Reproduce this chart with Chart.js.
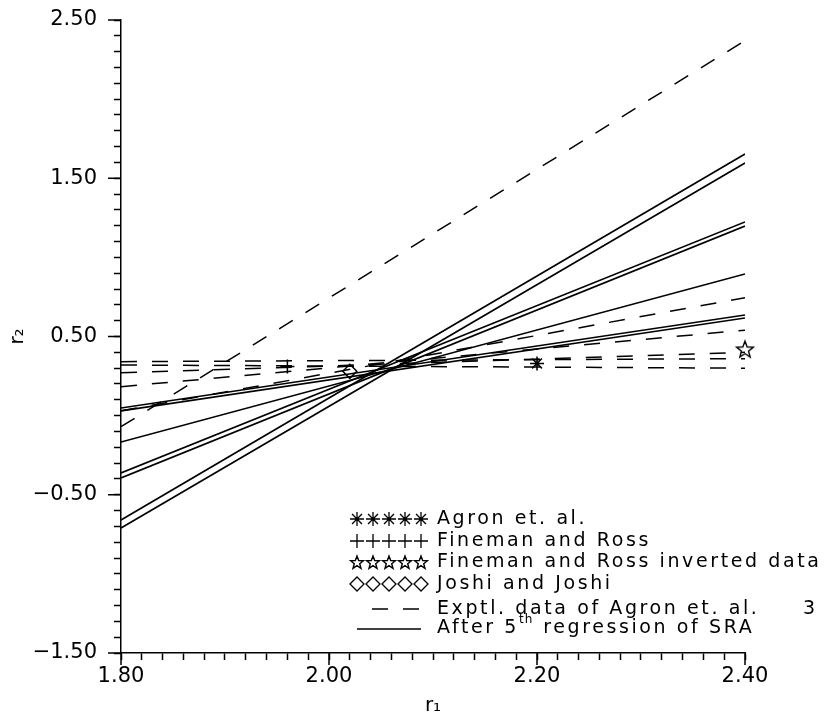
<!DOCTYPE html>
<html>
<head>
<meta charset="utf-8">
<script src="https://cdn.jsdelivr.net/npm/chart.js@4.4.1/dist/chart.umd.min.js"></script>
<style>
html, body { margin: 0; padding: 0; background: #fff; }
</style>
</head>
<body>
<canvas id="grafico" width="839" height="718"></canvas>
<script>
// r1 range covered by every fitted / experimental line
var r1Ends = [1.80, 2.40];

// solid lines: after 5th regression of SRA (r2 at r1 = 1.80 and 2.40)
var sraStart = [0.048, 0.030, -0.167, -0.362, -0.394, -0.660, -0.710];
var sraEnd   = [0.636, 0.617, 0.895, 1.224, 1.198, 1.653, 1.596];

// dashed lines: experimental data of Agron et. al.
var exptStart = [-0.07, 0.03, 0.183, 0.271, 0.320, 0.341];
var exptEnd   = [2.37, 0.745, 0.540, 0.400, 0.300, 0.360];

// single points of the literature methods
var agronR1 = [2.20],    agronR2 = [0.33];
var finemanR1 = [1.96],  finemanR2 = [0.31];
var invertR1 = [2.40],   invertR2 = [0.42];
var joshiR1 = [2.02],    joshiR2 = [0.28];

var xTickLabels = [1.80, 2.00, 2.20, 2.40];
var yTickLabels = [-1.50, -0.50, 0.50, 1.50, 2.50];

var legendLabels = ["Agron et. al.", "Fineman and Ross", "Fineman and Ross inverted data", "Joshi and Joshi"];

var fonte = '"DejaVu Sans", sans-serif';

function estrela(size) {
    var c = document.createElement('canvas');
    c.width = size; c.height = size;
    var g = c.getContext('2d');
    var cx = size / 2, cy = size / 2 + 0.8, R = size / 2 - 1.2, r = R * 0.42;
    g.beginPath();
    for (var i = 0; i < 10; i++) {
        var a = -Math.PI / 2 + i * Math.PI / 5;
        var rr = (i % 2) ? r : R;
        g.lineTo(cx + rr * Math.cos(a), cy + rr * Math.sin(a));
    }
    g.closePath();
    g.fillStyle = '#fff'; g.fill();
    g.lineWidth = 1.4; g.strokeStyle = '#000'; g.stroke();
    return c;
}
var starBig = estrela(20), starSmall = estrela(16);

function pts(xs, ys) {
    return xs.map(function (v, i) { return {x: v, y: ys[i]}; });
}

var datasets = [];
sraStart.forEach(function (v, i) {
    datasets.push({
        data: pts(r1Ends, [v, sraEnd[i]]),
        showLine: true, borderColor: '#000', borderWidth: 1.7, pointRadius: 0
    });
});
exptStart.forEach(function (v, i) {
    datasets.push({
        data: pts(r1Ends, [v, exptEnd[i]]),
        showLine: true, borderColor: '#000', borderWidth: 1.5, borderDash: [16, 15], pointRadius: 0
    });
});
datasets.push({data: pts(agronR1, agronR2), pointStyle: 'star', pointRadius: 7, borderColor: '#000', borderWidth: 1.5, clip: false});
datasets.push({data: pts(finemanR1, finemanR2), pointStyle: 'cross', pointRadius: 7, borderColor: '#000', borderWidth: 1.5, clip: false});
datasets.push({data: pts(invertR1, invertR2), pointStyle: starBig, clip: false});
datasets.push({data: pts(joshiR1, joshiR2), pointStyle: 'rectRot', pointRadius: 7, borderColor: '#000', backgroundColor: '#fff', borderWidth: 1.5, clip: false});

function isMajor(v, list) {
    return list.some(function (t) { return Math.abs(t - v) < 1e-6; });
}
function fmt(v) {
    var s = Math.abs(v).toFixed(2);
    return v < -1e-9 ? '\u2212' + s : s;
}

// longer ticks at the labelled values
var ticksLongos = {
    id: 'ticksLongos',
    afterDraw: function (chart) {
        var ctx = chart.ctx, x = chart.scales.x, y = chart.scales.y;
        ctx.save();
        ctx.strokeStyle = '#000';
        ctx.lineWidth = 1.5;
        ctx.beginPath();
        xTickLabels.forEach(function (v) {
            var px = x.getPixelForValue(v);
            ctx.moveTo(px, x.top); ctx.lineTo(px, x.top + 12);
        });
        yTickLabels.forEach(function (v) {
            var py = y.getPixelForValue(v);
            ctx.moveTo(y.right, py); ctx.lineTo(y.right - 13, py);
        });
        ctx.stroke();
        ctx.restore();
    }
};

var legenda = {
    id: 'legenda',
    afterDatasetsDraw: function (chart) {
        var ctx = chart.ctx, h = Chart.helpers;
        var estilos = ['star', 'cross', starSmall, 'rectRot'];
        var linhas = [519, 541, 562, 584];
        ctx.save();
        ctx.strokeStyle = '#000';
        ctx.textBaseline = 'middle';
        ctx.font = '19px ' + fonte;
        ctx.letterSpacing = '2.6px';
        estilos.forEach(function (st, i) {
            for (var k = 0; k < 5; k++) {
                ctx.lineWidth = 1.3;
                ctx.fillStyle = '#fff';
                h.drawPoint(ctx, {pointStyle: st, radius: 7, borderWidth: 1.3, rotation: 0}, 357 + k * 16, linhas[i]);
            }
            ctx.fillStyle = '#000';
            ctx.fillText(legendLabels[i], 437, linhas[i]);
        });
        // line samples
        ctx.lineWidth = 1.5;
        ctx.beginPath();
        ctx.setLineDash([16, 15]);
        ctx.moveTo(372, 609); ctx.lineTo(420, 609);
        ctx.stroke();
        ctx.setLineDash([]);
        ctx.beginPath();
        ctx.moveTo(357, 629); ctx.lineTo(421, 629);
        ctx.stroke();
        ctx.fillStyle = '#000';
        ctx.fillText('Exptl. data of Agron et. al.', 437, 609);
        ctx.fillText('3', 803, 609);
        var x0 = 437;
        ctx.fillText('After 5', x0, 628);
        x0 += ctx.measureText('After 5').width;
        ctx.font = '12px ' + fonte;
        ctx.letterSpacing = '1px';
        ctx.fillText('th', x0, 620);
        x0 += ctx.measureText('th').width + 4;
        ctx.font = '19px ' + fonte;
        ctx.letterSpacing = '2.6px';
        ctx.fillText('regression of SRA', x0 + 6, 628);
        ctx.restore();
    }
};

var ctx = document.getElementById('grafico').getContext('2d');
var chart = new Chart(ctx, {
    type: 'scatter',
    data: { datasets: datasets },
    options: {
        responsive: false,
        animation: false,
        devicePixelRatio: 1,
        layout: { padding: { top: 20, right: 94, left: 0, bottom: 0 } },
        plugins: { legend: { display: false }, tooltip: { enabled: false } },
        scales: {
            x: {
                type: 'linear', position: 'bottom', min: 1.80, max: 2.40,
                afterFit: function (s) { s.height = 65; s.paddingLeft = 0; s.paddingRight = 0; },
                ticks: {
                    stepSize: 0.02, autoSkip: false, maxRotation: 0, minRotation: 0, padding: 4,
                    color: '#000', font: { family: fonte, size: 21 },
                    callback: function (v) { return isMajor(v, xTickLabels) ? fmt(v) : ''; }
                },
                grid: { drawOnChartArea: false, tickLength: 7, tickColor: '#000', tickWidth: 1.5 },
                border: { color: '#000', width: 1.5 },
                title: { display: true, text: 'r\u2081', color: '#000', font: { family: fonte, size: 20 }, padding: 0 }
            },
            y: {
                type: 'linear', min: -1.50, max: 2.50,
                afterFit: function (s) { s.width = 121; s.paddingTop = 0; s.paddingBottom = 0; },
                ticks: {
                    stepSize: 0.1, autoSkip: false, padding: 17,
                    color: '#000', font: { family: fonte, size: 21 },
                    callback: function (v) { return isMajor(v, yTickLabels) ? fmt(v) : ''; }
                },
                grid: { drawOnChartArea: false, tickLength: 7, tickColor: '#000', tickWidth: 1.5 },
                border: { color: '#000', width: 1.5 },
                title: { display: true, text: 'r\u2082', color: '#000', font: { family: fonte, size: 20 }, padding: { top: 6, bottom: 0 } }
            }
        }
    },
    plugins: [ticksLongos, legenda]
});
</script>
</body>
</html>
